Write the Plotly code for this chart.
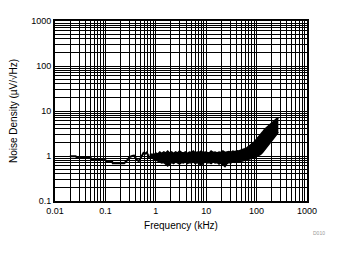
import plotly.graph_objects as go

# ---- data ----
# low-frequency part of the noise curve (kHz, uV/rtHz)
line_f = [0.0197, 0.0258, 0.027, 0.0508, 0.053, 0.1, 0.104, 0.137, 0.14, 0.236,
          0.27, 0.3, 0.34, 0.37, 0.42, 0.46, 0.5, 0.53, 0.57, 0.61, 0.66, 0.73, 0.76]
line_v = [0.985, 0.985, 0.93, 0.93, 0.82, 0.82, 0.74, 0.74, 0.69, 0.69,
          0.8, 0.95, 1.0, 1.02, 0.82, 0.77, 0.9, 1.05, 1.17, 1.12, 1.2, 0.95, 1.0]

# high-frequency noisy band: frequency, lower and upper envelope
band_f = [0.76, 0.84, 0.91, 1.0, 1.09, 1.2, 1.31, 1.44, 1.57, 1.72, 1.88, 2.06, 2.25, 2.47,
          2.7, 2.96, 3.24, 3.54, 3.88, 4.24, 4.64, 5.08, 5.56, 6.08, 6.66, 7.29, 7.98, 8.73,
          9.56, 10.5, 11.5, 12.5, 13.7, 15.0, 16.4, 18.0, 19.7, 21.5, 23.6, 25.8, 28.3, 30.9,
          33.8, 37.1, 40.6, 44.4, 48.6, 53.2, 58.2, 63.7, 69.7, 76.3, 83.5, 91.4, 100, 109,
          120, 131, 143, 157, 172, 188, 206, 225, 247, 270]
band_hi = [1.05, 1.10, 1.05, 1.17, 1.10, 1.23, 1.15, 1.23, 1.17, 1.29, 1.17, 1.23, 1.15, 1.23,
           1.17, 1.29, 1.20, 1.17, 1.23, 1.15, 1.23, 1.20, 1.29, 1.17, 1.23, 1.20, 1.29, 1.17,
           1.23, 1.20, 1.17, 1.29, 1.20, 1.23, 1.17, 1.23, 1.20, 1.29, 1.20, 1.23, 1.25, 1.20,
           1.29, 1.25, 1.30, 1.29, 1.36, 1.40, 1.45, 1.52, 1.62, 1.75, 1.92, 2.1, 2.35, 2.6,
           2.95, 3.4, 3.9, 4.3, 4.7, 5.1, 5.7, 6.2, 6.7, 7.0]
band_lo = [0.95, 0.90, 0.85, 0.80, 0.77, 0.74, 0.70, 0.72, 0.66, 0.60, 0.66, 0.72, 0.68, 0.74,
           0.70, 0.66, 0.72, 0.70, 0.74, 0.68, 0.72, 0.70, 0.74, 0.68, 0.72, 0.66, 0.62, 0.70,
           0.74, 0.70, 0.72, 0.68, 0.74, 0.70, 0.72, 0.66, 0.70, 0.64, 0.58, 0.68, 0.72, 0.70,
           0.74, 0.72, 0.76, 0.74, 0.76, 0.78, 0.80, 0.82, 0.85, 0.86, 0.88, 0.92, 0.97, 1.02,
           1.08, 1.2, 1.35, 1.55, 1.75, 2.05, 2.3, 2.6, 2.95, 3.4]

x_ticks = [0.01, 0.1, 1, 10, 100, 1000]
x_labels = ["0.01", "0.1", "1", "10", "100", "1000"]
y_ticks = [0.1, 1, 10, 100, 1000]
y_labels = ["0.1", "1", "10", "100", "1000"]

FONT = "Liberation Sans, Arial, sans-serif"

x_minor = [m * 10 ** e for e in range(-2, 3) for m in range(2, 10)]
y_minor = [m * 10 ** e for e in range(-1, 3) for m in range(2, 10)]

fig = go.Figure()
fig.add_trace(go.Scatter(x=line_f, y=line_v, mode="lines",
                         line=dict(color="black", width=2), hoverinfo="skip"))
fig.add_trace(go.Scatter(x=band_f, y=band_lo, mode="lines",
                         line=dict(color="black", width=1.5), hoverinfo="skip"))
fig.add_trace(go.Scatter(x=band_f, y=band_hi, mode="lines", fill="tonexty",
                         fillcolor="black", line=dict(color="black", width=1.5),
                         hoverinfo="skip"))

axis_common = dict(
    type="log",
    showgrid=True, gridcolor="black", gridwidth=1,
    showline=True, linecolor="black", linewidth=2, mirror=True,
    ticks="", zeroline=False,
    tickfont=dict(family=FONT, size=9, color="black"),
)

fig.update_xaxes(**axis_common, range=[-2, 3], tickvals=x_ticks, ticktext=x_labels,
                 minor=dict(tickvals=x_minor, showgrid=True, gridcolor="black", gridwidth=1, ticks=""),
                 title=dict(text="Frequency (kHz)", font=dict(family=FONT, size=10, color="black"),
                            standoff=7))
fig.update_yaxes(**axis_common, range=[-1, 3], tickvals=y_ticks, ticktext=y_labels,
                 minor=dict(tickvals=y_minor, showgrid=True, gridcolor="black", gridwidth=1, ticks=""),
                 title=dict(text="Noise Density (µV/√Hz)", font=dict(family=FONT, size=10, color="black"),
                            standoff=12))

fig.add_annotation(text="D010", xref="paper", yref="paper", x=1.0, y=-0.15,
                   xanchor="left", yanchor="top", showarrow=False, xshift=4,
                   font=dict(family=FONT, size=5, color="#999999"))

fig.update_layout(
    width=339, height=254,
    margin=dict(l=52, r=32, t=21, b=53),
    paper_bgcolor="white", plot_bgcolor="white",
    showlegend=False,
)

fig.write_html("out.html")
